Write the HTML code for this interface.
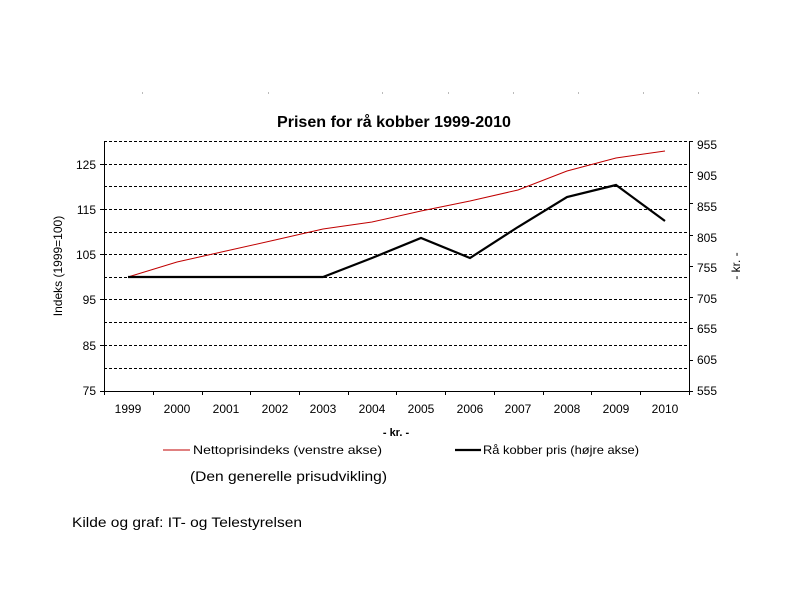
<!DOCTYPE html>
<html><head><style>body{margin:0;background:#fff}svg{display:block}text{font-family:"Liberation Sans",Arial,sans-serif}</style></head>
<body>
<svg width="800" height="600" xmlns="http://www.w3.org/2000/svg">
<rect width="800" height="600" fill="#fff"/>
<g fill="#bbb"><rect x="142" y="92" width="1" height="2"/><rect x="268" y="92" width="1" height="2"/><rect x="382" y="92" width="1" height="2"/><rect x="448" y="92" width="1" height="2"/><rect x="513" y="92" width="1" height="2"/><rect x="578" y="92" width="1" height="2"/><rect x="643" y="92" width="1" height="2"/><rect x="698" y="92" width="1" height="2"/></g>
<text x="277" y="127" font-size="16" font-weight="bold" textLength="234" lengthAdjust="spacingAndGlyphs">Prisen for rå kobber 1999-2010</text>
<g stroke="#000" stroke-width="1" stroke-dasharray="3,2">
<line x1="104" y1="141.5" x2="689" y2="141.5"/><line x1="104" y1="164.5" x2="689" y2="164.5"/><line x1="104" y1="186.5" x2="689" y2="186.5"/><line x1="104" y1="209.5" x2="689" y2="209.5"/><line x1="104" y1="232.5" x2="689" y2="232.5"/><line x1="104" y1="254.5" x2="689" y2="254.5"/><line x1="104" y1="277.5" x2="689" y2="277.5"/><line x1="104" y1="299.5" x2="689" y2="299.5"/><line x1="104" y1="322.5" x2="689" y2="322.5"/><line x1="104" y1="345.5" x2="689" y2="345.5"/><line x1="104" y1="368.5" x2="689" y2="368.5"/>
</g>
<g stroke="#000" stroke-width="1">
<line x1="104.5" y1="141" x2="104.5" y2="391"/><line x1="689.5" y1="141" x2="689.5" y2="391"/><line x1="104" y1="391.5" x2="690" y2="391.5"/>
<path d="M100 164.5h4M100 209.5h4M100 254.5h4M100 299.5h4M100 345.5h4M100 391.5h4"/>
<path d="M689 141.5h4M689 172.5h4M689 203.5h4M689 235.5h4M689 266.5h4M689 297.5h4M689 328.5h4M689 360.5h4M689 391.5h4"/>
<path d="M104.5 391v4M153.5 391v4M202.5 391v4M250.5 391v4M299.5 391v4M348.5 391v4M396.5 391v4M445.5 391v4M494.5 391v4M543.5 391v4M591.5 391v4M640.5 391v4M689.5 391v4"/>
</g>
<g font-size="12" text-anchor="end">
<text x="96" y="169">125</text><text x="96" y="214">115</text><text x="96" y="259">105</text><text x="96" y="304">95</text><text x="96" y="350">85</text><text x="96" y="395">75</text>
</g>
<g font-size="12">
<text x="697" y="149">955</text><text x="697" y="180">905</text><text x="697" y="211">855</text><text x="697" y="242">805</text><text x="697" y="272">755</text><text x="697" y="303">705</text><text x="697" y="333">655</text><text x="697" y="364">605</text><text x="697" y="395">555</text>
</g>
<g font-size="12" text-anchor="middle">
<text x="128" y="413">1999</text><text x="177" y="413">2000</text><text x="226" y="413">2001</text><text x="275" y="413">2002</text><text x="323" y="413">2003</text><text x="372" y="413">2004</text><text x="421" y="413">2005</text><text x="470" y="413">2006</text><text x="518" y="413">2007</text><text x="567" y="413">2008</text><text x="616" y="413">2009</text><text x="665" y="413">2010</text>
</g>
<text transform="translate(62,266) rotate(-90)" font-size="12" text-anchor="middle">Indeks (1999=100)</text>
<text transform="translate(740,266) rotate(-90)" font-size="12" text-anchor="middle">- kr. -</text>
<polyline fill="none" stroke="#c00000" stroke-width="1" points="128,277 177,262 226,251 275,240 323,229 372,222 421,211 470,201 518,190 567,171 616,158 665,151"/>
<polyline fill="none" stroke="#000" stroke-width="2.2" points="128,277 177,277 226,277 275,277 323,277 372,258 421,238 470,258 518,227 567,197 616,185 665,221"/>
<text x="396" y="436" font-size="11" font-weight="bold" text-anchor="middle">- kr. -</text>
<line x1="163" y1="450" x2="190" y2="450" stroke="#c00000" stroke-width="1"/>
<text x="193" y="454" font-size="12" textLength="189" lengthAdjust="spacingAndGlyphs">Nettoprisindeks (venstre akse)</text>
<line x1="455" y1="450" x2="481" y2="450" stroke="#000" stroke-width="2.2"/>
<text x="483" y="454" font-size="12" textLength="156" lengthAdjust="spacingAndGlyphs">Rå kobber pris (højre akse)</text>
<text x="190" y="481" font-size="14" textLength="197" lengthAdjust="spacingAndGlyphs">(Den generelle prisudvikling)</text>
<text x="72" y="527" font-size="14" textLength="230" lengthAdjust="spacingAndGlyphs">Kilde og graf: IT- og Telestyrelsen</text>
</svg>
</body></html>
